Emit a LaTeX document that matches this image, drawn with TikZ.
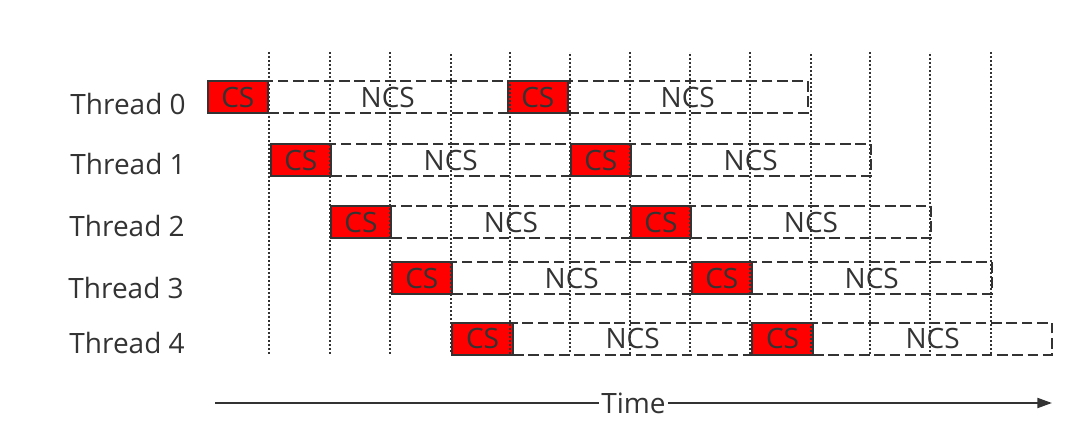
\documentclass[tikz,border=0pt]{standalone}
\usepackage{fontspec}
\setmainfont{Open Sans}
\usetikzlibrary{positioning,arrows.meta}
\definecolor{ink}{HTML}{333333}
\definecolor{csred}{HTML}{FF0000}
\newcommand{\lblfont}{\fontsize{21}{25}\selectfont}
\tikzset{
  csbox/.style={draw=ink, fill=csred, line width=1.5pt, minimum width=45.4pt,
    minimum height=24pt, inner sep=0pt, outer sep=0pt, text=ink, font=\lblfont},
  ncsbox/.style={draw=ink, dash pattern=on 8pt off 3.5pt, line width=1.5pt,
    minimum width=179.6pt, minimum height=24pt, inner sep=0pt, outer sep=0pt,
    text=ink, font=\lblfont},
  thrlabel/.style={anchor=east, inner sep=0pt, text=ink, font=\lblfont},
  gridline/.style={draw=ink, line width=1.6pt, dash pattern=on 1.5pt off 1.5pt},
}
\begin{document}
\begin{tikzpicture}[x=0.75pt,y=-0.75pt]
\useasboundingbox (0,0) rectangle (1082,435);
% thread names
\node[thrlabel] (thr0) at (186,104) {Thread 0};
\node[thrlabel] (thr1) at (186,164) {Thread 1};
\node[thrlabel] (thr2) at (185,225.5) {Thread 2};
\node[thrlabel] (thr3) at (184,287.5) {Thread 3};
\node[thrlabel] (thr4) at (185,342.5) {Thread 4};

% thread 0
\node[csbox, anchor=north west] (cs00) at (207.5,81) {CS};
\node[ncsbox, right=0pt of cs00] (ncs00) {NCS};
\node[csbox, right=0pt of ncs00] (cs01) {CS};
\node[ncsbox, right=0pt of cs01] (ncs01) {NCS};
% thread 1
\node[csbox, anchor=north west] (cs10) at (270.5,144) {CS};
\node[ncsbox, right=0pt of cs10] (ncs10) {NCS};
\node[csbox, right=0pt of ncs10] (cs11) {CS};
\node[ncsbox, right=0pt of cs11] (ncs11) {NCS};
% thread 2
\node[csbox, anchor=north west] (cs20) at (330.7,206) {CS};
\node[ncsbox, right=0pt of cs20] (ncs20) {NCS};
\node[csbox, right=0pt of ncs20] (cs21) {CS};
\node[ncsbox, right=0pt of cs21] (ncs21) {NCS};
% thread 3
\node[csbox, anchor=north west] (cs30) at (391.5,262) {CS};
\node[ncsbox, right=0pt of cs30] (ncs30) {NCS};
\node[csbox, right=0pt of ncs30] (cs31) {CS};
\node[ncsbox, right=0pt of cs31] (ncs31) {NCS};
% thread 4
\node[csbox, anchor=north west] (cs40) at (452.3,322.5) {CS};
\node[ncsbox, right=0pt of cs40] (ncs40) {NCS};
\node[csbox, right=0pt of ncs40] (cs41) {CS};
\node[ncsbox, right=0pt of cs41] (ncs41) {NCS};

% time slots
\draw[gridline] (269,52) -- (269,354) (330,52) -- (330,354)
  (390,52) -- (390,354) (451,54) -- (451,354) (510,52) -- (510,354)
  (570,54) -- (570,354) (630,52) -- (630,354) (690,54) -- (690,354)
  (750,52) -- (750,354) (811,54) -- (811,354) (870,52) -- (870,354)
  (930,54) -- (930,354) (991,52) -- (991,354);

% time axis
\coordinate (tstart) at (215,403);
\coordinate (tend) at (1052,403);
\draw[ink, line width=1.5pt, -{Triangle[length=11pt,width=7.5pt]}] (tstart) --
  node[fill=white, inner sep=1.5pt, text=ink, font=\lblfont] (tlabel) {Time} (tend);
\end{tikzpicture}
\end{document}
